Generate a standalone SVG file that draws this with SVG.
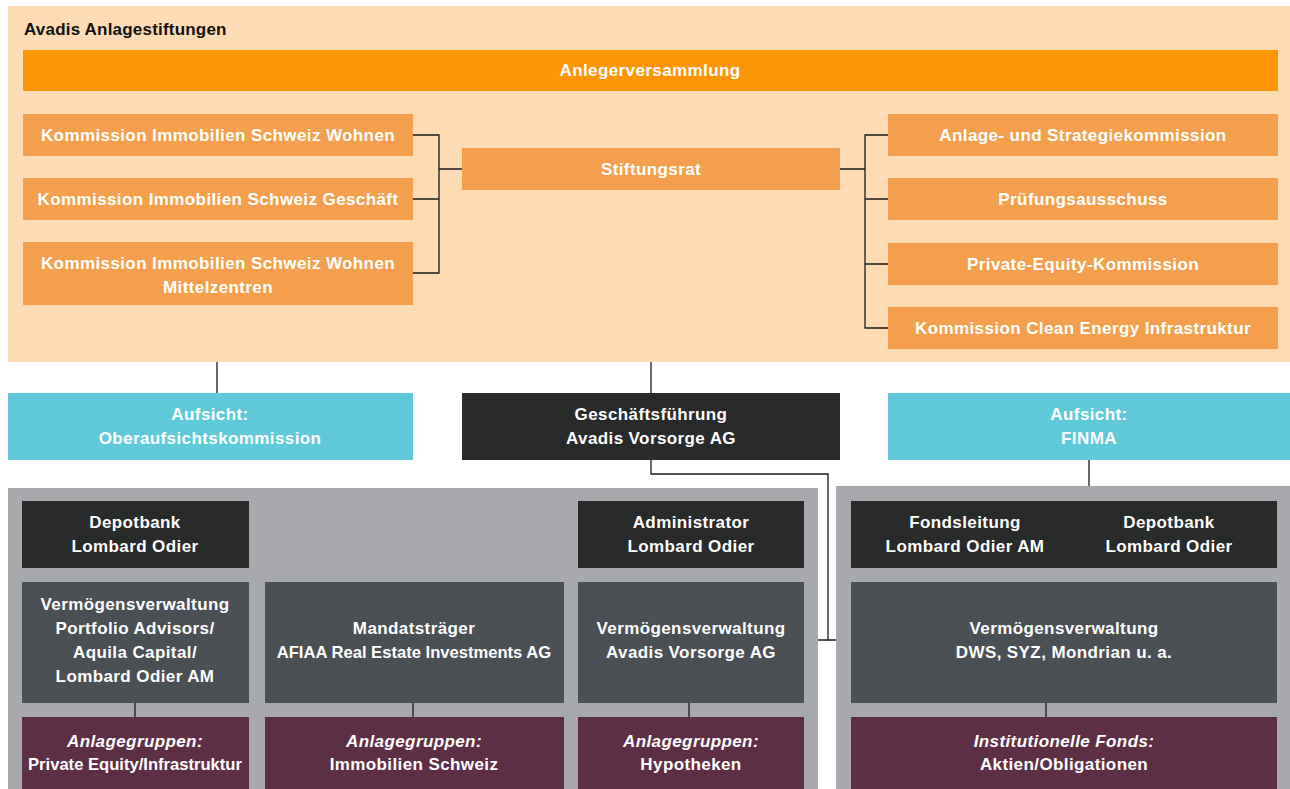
<svg xmlns="http://www.w3.org/2000/svg" width="1290" height="789" viewBox="0 0 1290 789">
<style>
text{font-family:"Liberation Sans",Arial,sans-serif;font-weight:bold;font-size:17px;fill:#fff;text-anchor:middle;letter-spacing:0.4px}
.t{fill:#111;text-anchor:start;font-size:17px;letter-spacing:0.2px}
.i{font-style:italic}
.n{letter-spacing:0px;font-size:16.6px}
.org{fill:#F49F4E}
.top{fill:#FE9504}
.cy{fill:#60C9D9}
.dk{fill:#292A2A}
.sl{fill:#4B5055}
.pu{fill:#5C2F45}
.gr{fill:#A8A9AD}
.c{fill:none;stroke:#1a1a1a;stroke-width:1.3}
</style>
<rect x="8" y="6" width="1282" height="356" fill="#FDDBB4"/>
<text class="t" x="24" y="35">Avadis Anlagestiftungen</text>
<rect class="gr" x="8" y="488" width="810" height="301"/>
<rect class="gr" x="836" y="486" width="454" height="303"/>
<g id="connectors">
<path class="c" d="M413,135H439V273H413M413,199H439M439,169H462"/>
<path class="c" d="M888,135H865V328H888M865,199H888M865,264H888M840,169H865"/>
<path class="c" d="M217,362V393M651,362V393M651,460V474H828V640M818,640H836M1089,460V486"/>
<path class="c" d="M135,703V717M413,703V717M689,703V717M1046,703V717"/>
</g>
<g id="anlegerversammlung"><rect class="top" x="23" y="50" width="1255" height="41"/><text x="650" y="76">Anlegerversammlung</text></g>
<g id="kisw"><rect class="org" x="23" y="114" width="390" height="42"/><text x="218" y="141">Kommission Immobilien Schweiz Wohnen</text></g>
<g id="kisg"><rect class="org" x="23" y="178" width="390" height="42"/><text x="218" y="205">Kommission Immobilien Schweiz Geschäft</text></g>
<g id="kiswm"><rect class="org" x="23" y="242" width="390" height="63"/><text x="218" y="269">Kommission Immobilien Schweiz Wohnen</text><text x="218" y="293">Mittelzentren</text></g>
<g id="stiftungsrat"><rect class="org" x="462" y="148" width="378" height="42"/><text x="651" y="175">Stiftungsrat</text></g>
<g id="ask"><rect class="org" x="888" y="114" width="390" height="42"/><text x="1083" y="141">Anlage- und Strategiekommission</text></g>
<g id="pa"><rect class="org" x="888" y="178" width="390" height="42"/><text x="1083" y="205">Prüfungsausschuss</text></g>
<g id="pek"><rect class="org" x="888" y="243" width="390" height="42"/><text x="1083" y="270">Private-Equity-Kommission</text></g>
<g id="kcei"><rect class="org" x="888" y="307" width="390" height="42"/><text x="1083" y="334">Kommission Clean Energy Infrastruktur</text></g>
<g id="oak"><rect class="cy" x="8" y="393" width="405" height="67"/><text x="210" y="420">Aufsicht:</text><text x="210" y="444">Oberaufsichtskommission</text></g>
<g id="gf"><rect class="dk" x="462" y="393" width="378" height="67"/><text x="651" y="420">Geschäftsführung</text><text x="651" y="444">Avadis Vorsorge AG</text></g>
<g id="finma"><rect class="cy" x="888" y="393" width="402" height="67"/><text x="1089" y="420">Aufsicht:</text><text x="1089" y="444">FINMA</text></g>
<g id="depot1"><rect class="dk" x="22" y="501" width="227" height="67"/><text x="135" y="528">Depotbank</text><text x="135" y="552">Lombard Odier</text></g>
<g id="admin"><rect class="dk" x="578" y="501" width="226" height="67"/><text x="691" y="528">Administrator</text><text x="691" y="552">Lombard Odier</text></g>
<g id="vv1"><rect class="sl" x="22" y="582" width="227" height="121"/><text x="135" y="610">Vermögensverwaltung</text><text x="135" y="634">Portfolio Advisors/</text><text x="135" y="658">Aquila Capital/</text><text x="135" y="682">Lombard Odier AM</text></g>
<g id="mandat"><rect class="sl" x="265" y="582" width="299" height="121"/><text x="414" y="634">Mandatsträger</text><text class="n" x="414" y="658">AFIAA Real Estate Investments AG</text></g>
<g id="vv2"><rect class="sl" x="578" y="582" width="226" height="121"/><text x="691" y="634">Vermögensverwaltung</text><text x="691" y="658">Avadis Vorsorge AG</text></g>
<g id="ag1"><rect class="pu" x="22" y="717" width="227" height="72"/><text class="i" x="135" y="747">Anlagegruppen:</text><text class="n" x="135" y="770">Private Equity/Infrastruktur</text></g>
<g id="ag2"><rect class="pu" x="265" y="717" width="299" height="72"/><text class="i" x="414" y="747">Anlagegruppen:</text><text x="414" y="770">Immobilien Schweiz</text></g>
<g id="ag3"><rect class="pu" x="578" y="717" width="226" height="72"/><text class="i" x="691" y="747">Anlagegruppen:</text><text x="691" y="770">Hypotheken</text></g>
<g id="fonds"><rect class="dk" x="851" y="501" width="426" height="67"/><text x="965" y="528">Fondsleitung</text><text x="965" y="552">Lombard Odier AM</text><text x="1169" y="528">Depotbank</text><text x="1169" y="552">Lombard Odier</text></g>
<g id="vv3"><rect class="sl" x="851" y="582" width="426" height="121"/><text x="1064" y="634">Vermögensverwaltung</text><text x="1064" y="658">DWS, SYZ, Mondrian u. a.</text></g>
<g id="if"><rect class="pu" x="851" y="717" width="426" height="72"/><text class="i" x="1064" y="747">Institutionelle Fonds:</text><text x="1064" y="770">Aktien/Obligationen</text></g>
</svg>
